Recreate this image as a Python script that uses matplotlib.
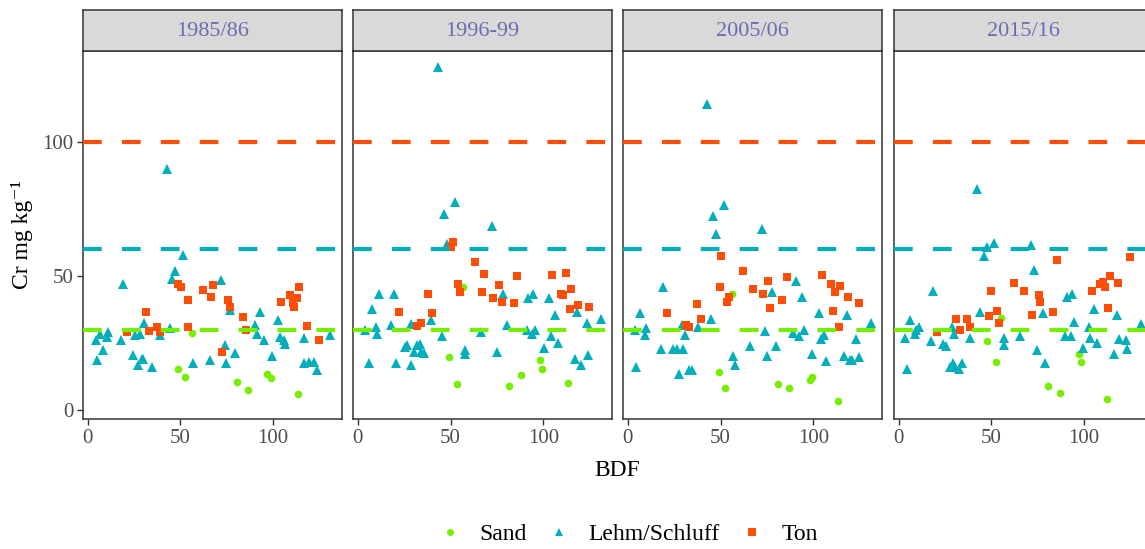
import numpy as np
import matplotlib
matplotlib.use('Agg')
import matplotlib.pyplot as plt
from matplotlib.lines import Line2D

plt.rcParams['font.family'] = ['Liberation Serif', 'DejaVu Serif']
plt.rcParams['lines.scale_dashes'] = False

# BDF site number vs Cr (mg/kg), one list per soil group and period
periods = ['1985/86', '1996-99', '2005/06', '2015/16']

sand_8586 = [(49.0, 15.5), (52.6, 12.4), (56.2, 28.8), (80.5, 10.5), (86.8, 7.4),
             (96.8, 13.4), (98.9, 11.8), (113.3, 6.0)]
lehm_8586 = [(4.3, 26), (4.9, 18.6), (6.7, 28.5), (8.5, 22.3), (10.3, 27.3), (11.2, 29.2),
             (17.8, 26), (18.9, 47.1), (24.3, 20.5), (25.6, 27.9), (27.4, 16.7), (28.3, 28.5),
             (29.2, 19.2), (30.0, 19.2), (30.6, 32.3), (34.6, 16.1), (39.1, 27.9), (42.7, 89.6),
             (44.5, 30.4), (45.6, 49), (47.2, 51.9), (51.7, 57.7), (57.1, 17.4), (65.8, 18.6),
             (71.9, 48.4), (74.2, 24.2), (74.8, 17.4), (76.9, 37.2), (79.6, 21.1), (90.5, 31.6),
             (91.4, 28.5), (93.2, 36.6), (95.0, 26), (99.5, 20.1), (102.5, 33.5), (104.0, 27.3),
             (105.8, 26), (106.7, 24.8), (116.6, 17.4), (117.0, 27), (119.3, 18), (122.0, 18),
             (123.8, 14.9), (131.0, 27.9)]
ton_8586 = [(21.1, 29.2), (31.5, 36.6), (33.3, 29.4), (37.3, 31.0), (39.1, 29.2), (49.0, 47.1),
            (50.3, 45.9), (53.9, 40.9), (54.4, 30.8), (62.2, 44.7), (66.5, 42.2), (67.4, 46.5),
            (72.4, 21.7), (75.5, 40.9), (76.6, 38.5), (83.8, 34.7), (85.6, 29.8), (104.5, 40.3),
            (109.4, 42.8), (110.8, 39.7), (111.5, 38.5), (113.0, 41.6), (113.9, 45.7),
            (118.4, 31.3), (124.7, 26.0)]

sand_9699 = [(49.0, 19.9), (53.7, 9.6), (56.8, 45.9), (81.6, 8.9), (87.9, 13.0),
             (98.2, 18.6), (99.1, 15.5), (113.2, 10.2)]
lehm_9699 = [(3.6, 29.8), (5.8, 17.6), (7.6, 37.8), (9.9, 31), (10.5, 28.3), (11.4, 43.2),
             (18.0, 31.6), (19.5, 43.4), (20.7, 17.4), (25.6, 23.6), (26.5, 24.2), (28.5, 16.7),
             (28.8, 32), (30.3, 21.7), (32.1, 24.2), (33.3, 24.8), (34.2, 21.7), (35.7, 21.3),
             (39.3, 33.5), (43.2, 127.8), (45.4, 27.5), (46.3, 73.2), (48.3, 62), (52.6, 77.6),
             (57.7, 22.3), (58.0, 21), (66.3, 29.2), (72.4, 68.6), (75.1, 21.7), (78.4, 43.4),
             (80.5, 31.6), (91.0, 29.8), (91.9, 41.6), (93.7, 28.5), (94.6, 43.2), (95.5, 29.8),
             (100.5, 23.3), (103.2, 41.6), (104.1, 27.5), (106.3, 35.4), (107.7, 25.1),
             (117.1, 19.2), (118.0, 36.6), (120.4, 16.7), (123.4, 32.5), (124.3, 20.5),
             (131.2, 34.1)]
ton_9699 = [(22.0, 36.6), (32.1, 31.3), (34.2, 32.5), (37.8, 43.2), (40.2, 36), (50.3, 60.8),
            (51.2, 62.7), (54.1, 46.9), (55.0, 44), (63.0, 55.2), (66.7, 44), (67.9, 50.6),
            (73.0, 41.6), (76.2, 46.5), (77.5, 40.3), (84.3, 39.7), (86.1, 49.9), (104.9, 50.2),
            (109.5, 43.4), (110.8, 42.8), (112.1, 50.9), (114.4, 37.6), (115.0, 45),
            (118.9, 39.1), (124.7, 38.5)]

sand_0506 = [(48.9, 14.3), (52.5, 8.3), (56.2, 43.4), (81.0, 9.6), (87.0, 8.3),
             (98.4, 11.2), (99.3, 12.4), (113.2, 3.3)]
lehm_0506 = [(3.6, 29.8), (4.5, 16.1), (6.3, 36), (9.1, 27.9), (10.0, 30.4), (17.6, 22.7),
             (18.7, 45.7), (24.5, 22.7), (26.3, 22.7), (27.7, 13.6), (29.0, 31.6), (29.9, 22.7),
             (30.8, 27.9), (33.2, 14.9), (34.4, 15.1), (38.0, 31), (42.6, 113.8), (44.9, 34.1),
             (45.8, 72.2), (47.6, 65.5), (52.0, 76.3), (56.7, 20.1), (58.0, 16.7), (66.1, 23.9),
             (72.5, 67.4), (73.7, 29.4), (74.8, 20.2), (77.9, 43.8), (80.1, 23.9), (89.3, 28.8),
             (90.9, 48), (92.4, 27.5), (94.2, 42.2), (95.1, 29.8), (99.6, 20.8), (103.3, 36),
             (104.2, 26.3), (106.0, 27.9), (106.9, 18.4), (116.8, 20.2), (118.3, 35.4),
             (119.6, 18.6), (120.8, 18.6), (123.2, 26.3), (124.5, 19.9), (131.3, 32.3)]
ton_0506 = [(21.2, 36), (31.3, 31.6), (33.2, 31), (37.5, 39.5), (39.3, 34.1), (49.5, 45.9),
            (50.4, 57.3), (53.4, 40.3), (54.3, 42.2), (62.1, 51.7), (67.6, 45), (72.8, 43.4),
            (75.5, 48), (76.4, 38.2), (83.3, 40.9), (85.7, 49.4), (104.5, 50.2), (109.6, 46.9),
            (110.9, 37), (111.8, 44), (113.8, 30.8), (114.7, 46.2), (118.7, 42.2), (124.6, 39.7)]

sand_1516 = [(47.9, 25.8), (52.4, 17.9), (55.3, 34.4), (80.7, 9.0), (87.0, 6.5),
             (97.3, 20.8), (98.2, 17.9), (112.3, 4.0)]
lehm_1516 = [(3.3, 27), (4.5, 15.5), (6.3, 33.7), (8.7, 28.3), (9.6, 29.8), (11.0, 31),
             (17.7, 25.8), (18.3, 44.4), (24.0, 24.6), (25.3, 23.8), (27.7, 16.1), (28.6, 30.8),
             (29.5, 17.4), (29.8, 28.5), (30.4, 16.1), (32.5, 15.5), (34.0, 17.4), (38.5, 27),
             (42.3, 82.5), (43.9, 36.6), (45.8, 57.3), (47.6, 60.8), (51.7, 62.3), (57.0, 26.7),
             (57.0, 24.2), (65.3, 27.5), (71.6, 61.4), (73.2, 52.1), (74.7, 22.3), (77.8, 36.2),
             (79.2, 17.7), (89.7, 27.5), (90.6, 42.2), (92.8, 27.5), (93.3, 43.4), (94.6, 32.9),
             (99.6, 23.3), (102.7, 31), (103.3, 27), (105.4, 37.8), (106.9, 25.1), (116.3, 20.8),
             (118.1, 35.4), (119.0, 26.3), (122.6, 26), (123.5, 22.7), (130.7, 31.9)]
ton_1516 = [(20.8, 29.2), (30.9, 34.1), (33.1, 30), (37.1, 34.1), (38.5, 31), (49.0, 35),
            (49.9, 44.4), (53.3, 37), (54.4, 32.5), (62.4, 47.5), (67.5, 44.4), (72.0, 35.4),
            (75.6, 42.8), (76.5, 40.3), (83.4, 36.6), (85.2, 55.8), (104.5, 44.4), (108.7, 46.9),
            (110.5, 47.8), (111.2, 45.9), (113.2, 38), (114.1, 50), (118.4, 47.5), (124.8, 57.1)]

sand_all = [sand_8586, sand_9699, sand_0506, sand_1516]
lehm_all = [lehm_8586, lehm_9699, lehm_0506, lehm_1516]
ton_all = [ton_8586, ton_9699, ton_0506, ton_1516]

groups = ['Sand', 'Lehm/Schluff', 'Ton']
thresholds = [30, 60, 100]
colors = ['#76EE00', '#00AFBB', '#FC4E07']
markers = ['o', '^', 's']
msizes = [5.5, 7.0, 6.0]

W, H = 1145, 549
fig = plt.figure(figsize=(W / 100, H / 100), dpi=100)

panel_left = [83, 353.3, 623.3, 894]
panel_w = 258.5
panel_top, panel_bot, strip_top = 51, 419, 10
edge = '#333333'
tickcol = '#4d4d4d'

for i, per in enumerate(periods):
    ax = fig.add_axes([panel_left[i] / W, 1 - panel_bot / H, panel_w / W, (panel_bot - panel_top) / H])
    for j, data in enumerate([sand_all[i], lehm_all[i], ton_all[i]]):
        arr = np.array(data).T
        ax.plot(arr[0], arr[1], linestyle='none', marker=markers[j], ms=msizes[j],
                color=colors[j], mew=0, zorder=2)
    for t, c in zip(thresholds, colors):
        ax.axhline(t, color=c, lw=3.0, dashes=(13.5, 14.5), zorder=3)
    ax.set_xlim(-2.5, 137)
    ax.set_ylim(-3.3, 133.7)
    ax.set_xticks([0, 50, 100])
    ax.set_yticks([0, 50, 100])
    ax.tick_params(colors=edge, labelcolor=tickcol, labelsize=15, length=4, width=1, pad=3)
    if i > 0:
        ax.tick_params(axis='y', left=False, labelleft=False)
    for s in ax.spines.values():
        s.set_color(edge)
        s.set_linewidth(1.1)

    # facet strip
    sax = fig.add_axes([panel_left[i] / W, 1 - panel_top / H, panel_w / W, (panel_top - strip_top) / H])
    sax.set_facecolor('#d9d9d9')
    sax.set_xticks([])
    sax.set_yticks([])
    for s in sax.spines.values():
        s.set_color(edge)
        s.set_linewidth(1.1)
    sax.text(0.5, 0.48, per, transform=sax.transAxes, ha='center', va='center',
             fontsize=16, color='#6c6cb0')

fig.text(617 / W, 1 - 470 / H, 'BDF', ha='center', va='center', fontsize=17, color='black')
fig.text(22 / W, 1 - 235 / H, 'Cr mg kg\u207b\u00b9', ha='center', va='center',
         rotation=90, fontsize=17, color='black')

handles = [Line2D([], [], linestyle='none', marker=m, ms=ms, color=c, mew=0)
           for m, ms, c in zip(markers, [5.0, 6.0, 5.5], colors)]
fig.legend(handles, groups, loc='center', bbox_to_anchor=(628 / W, 1 - 534 / H), ncol=3,
           frameon=False, fontsize=17, handlelength=1.0, handletextpad=0.75, columnspacing=0.85)

fig.savefig('out.png', dpi=100)
